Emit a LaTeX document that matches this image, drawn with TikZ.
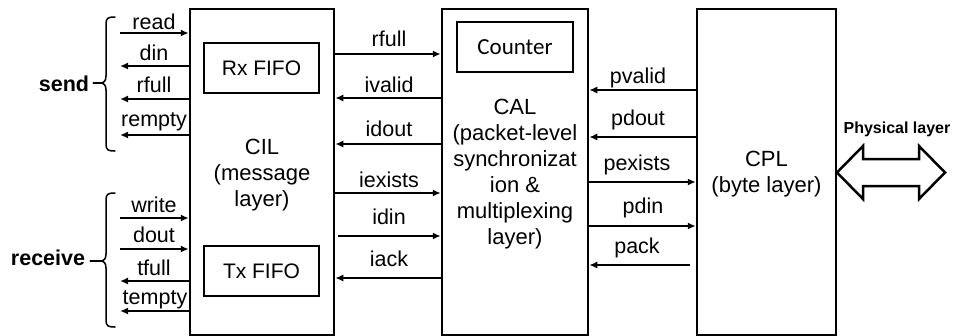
\documentclass[tikz,border=0pt]{standalone}
\usepackage{fontspec}
\setmainfont{Liberation Sans}
\newfontfamily\calfont{Carlito}
\usetikzlibrary{arrows.meta}
\begin{document}
\begin{tikzpicture}[x=1pt,y=-1pt,
  box/.style={draw, line width=2.5pt, inner sep=0pt},
  inbox/.style={draw, line width=2.5pt, minimum width=115pt, minimum height=50pt, inner sep=0pt, font=\fontsize{21}{25}\selectfont},
  sig/.style={line width=1.8pt, -{Latex[length=8pt,width=7pt]}},
  lbl/.style={anchor=base, inner sep=0pt, font=\fontsize{21.5}{25}\selectfont},
  blktxt/.style={align=center, inner sep=0pt, font=\fontsize{22}{26}\selectfont},
  side/.style={anchor=base, inner sep=0pt, font=\bfseries\fontsize{21.5}{25}\selectfont},
  brace/.style={line width=1.5pt, line join=round, line cap=round}]
\useasboundingbox (0,0) rectangle (956,335);

% main blocks
\node[box, minimum width=144pt, minimum height=326.5pt] (cil) at (262,172.25) {};
\node[box, minimum width=146pt, minimum height=326.5pt] (cal) at (515,172.25) {};
\node[box, minimum width=139pt, minimum height=326.5pt] (cpl) at (766.5,172.25) {};

% inner boxes
\node[inbox] (rx) at (261.5,68) {Rx FIFO};
\node[inbox] (tx) at (261.5,271) {Tx FIFO};
\node[inbox, minimum width=116pt, font=\calfont\fontsize{23}{27}\selectfont] (counter) at (515,47) {Counter};

% block texts
\node[blktxt] (ciltxt) at (262,175) {CIL\\(message\\layer)};
\node[blktxt] (caltxt) at (515,174.5) {CAL\\(packet-level\\synchronizat\\ion \&\\multiplexing\\layer)};
\node[blktxt] (cpltxt) at (766.5,174.5) {CPL\\(byte layer)};

% left free ends
\coordinate (L) at (120,0);

% send group
\draw[sig] (L |- 0,33) -- (cil.west |- 0,33);
\draw[sig] (cil.west |- 0,66) -- (L |- 0,66);
\draw[sig] (cil.west |- 0,99) -- (L |- 0,99);
\draw[sig] (cil.west |- 0,135) -- (L |- 0,135);
\node[lbl] (lread) at (154,29) {read};
\node[lbl] (ldin) at (154,60) {din};
\node[lbl] (lrfull) at (154,92) {rfull};
\node[lbl] (lrempty) at (154,126) {rempty};

% receive group
\draw[sig] (L |- 0,218) -- (cil.west |- 0,218);
\draw[sig] (L |- 0,249) -- (cil.west |- 0,249);
\draw[sig] (cil.west |- 0,281) -- (L |- 0,281);
\draw[sig] (cil.west |- 0,311) -- (L |- 0,311);
\node[lbl] (lwrite) at (154,212) {write};
\node[lbl] (ldout) at (154,242) {dout};
\node[lbl] (ltfull) at (154,275) {tfull};
\node[lbl] (ltempty) at (155,304) {tempty};

% braces
\coordinate (stip) at (100,83);
\draw[brace] (115,17) .. controls (108,17) and (106,18) .. (106,24) -- (106,76)
  .. controls (106,81) and (104,83) .. (stip)
  .. controls (104,83) and (106,85) .. (106,90) -- (106,144)
  .. controls (106,150) and (108,151) .. (115,151);
\node[side] (send) at (64,91) {send};
\draw[brace, shorten <=4pt] (send.east |- stip) -- (stip);

\coordinate (rtip) at (100,261);
\draw[brace] (115,193) .. controls (108,193) and (106,194) .. (106,200) -- (106,254)
  .. controls (106,259) and (104,261) .. (rtip)
  .. controls (104,261) and (106,263) .. (106,268) -- (106,320)
  .. controls (106,326) and (108,327) .. (115,327);
\node[side] (receive) at (48,265) {receive};
\draw[brace, shorten <=5pt] (receive.east |- rtip) -- (rtip);

% CIL <-> CAL
\draw[sig] (cil.east |- 0,54) -- (cal.west |- 0,54);
\draw[sig] (cal.west |- 0,98) -- (cil.east |- 0,98);
\draw[sig] (cal.west |- 0,144) -- (cil.east |- 0,144);
\draw[sig] (cil.east |- 0,193) -- (cal.west |- 0,193);
\draw[sig, shorten <=3pt] (cil.east |- 0,236) -- (cal.west |- 0,236);
\draw[sig] (cal.west |- 0,278) -- (cil.east |- 0,278);
\node[lbl] (mrfull) at (389,46) {rfull};
\node[lbl] (mivalid) at (389,92) {ivalid};
\node[lbl] (midout) at (389,136) {idout};
\node[lbl] (miexists) at (389,187) {iexists};
\node[lbl] (midin) at (389,224) {idin};
\node[lbl] (miack) at (389,266) {iack};

% CAL <-> CPL
\draw[sig] (cpl.west |- 0,90) -- (cal.east |- 0,90);
\draw[sig] (cpl.west |- 0,137) -- (cal.east |- 0,137);
\draw[sig] (cal.east |- 0,182) -- (cpl.west |- 0,182);
\draw[sig] (cal.east |- 0,226) -- (cpl.west |- 0,226);
\draw[sig, shorten <=6pt] (cpl.west |- 0,265) -- (cal.east |- 0,265);
\node[lbl] (rpvalid) at (638,83) {pvalid};
\node[lbl] (rpdout) at (638,125) {pdout};
\node[lbl] (rpexists) at (637,170) {pexists};
\node[lbl] (rpdin) at (643,213) {pdin};
\node[lbl] (rpack) at (637,253) {pack};

% physical layer double arrow
\draw[line width=2.5pt, line join=miter] (837,172.5) -- (863,146) -- (863,159) -- (919,159)
  -- (919,146) -- (945,172.5) -- (919,199) -- (919,186) -- (863,186) -- (863,199) -- cycle;
\node[anchor=base, inner sep=0pt, font=\bfseries\fontsize{16}{19}\selectfont] (phys) at (897,133) {Physical layer};
\end{tikzpicture}
\end{document}
